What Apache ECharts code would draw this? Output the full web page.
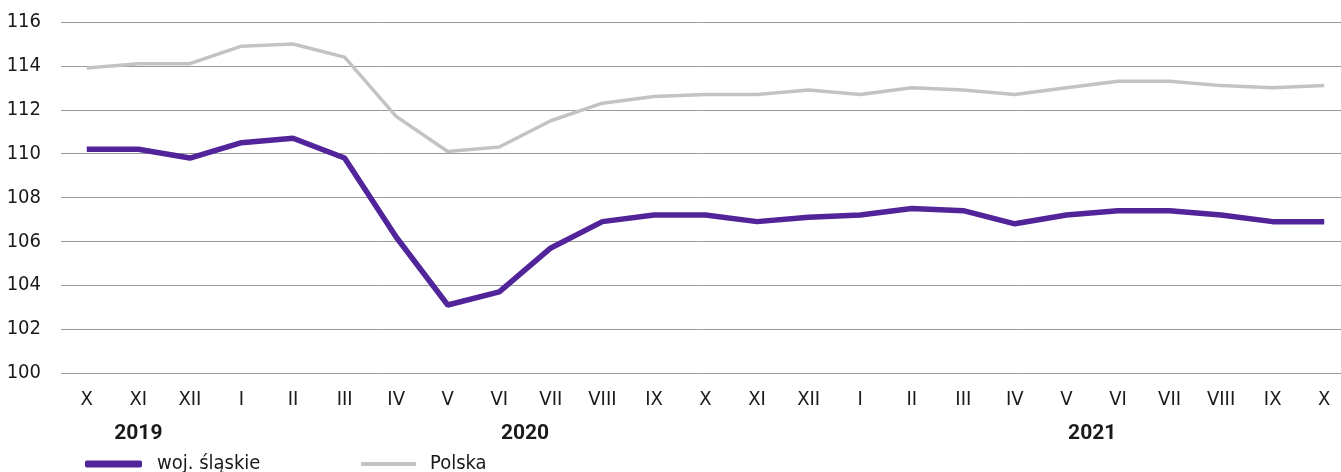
<!DOCTYPE html>
<html><head><meta charset="utf-8">
<script src="https://cdn.jsdelivr.net/npm/echarts@6/dist/echarts.min.js"></script>
<style>html,body{margin:0;padding:0;background:#fff}#c{width:1341px;height:472px}</style>
</head><body><div id="c"></div>
<script>
const months = ['X','XI','XII','I','II','III','IV','V','VI','VII','VIII','IX','X','XI','XII','I','II','III','IV','V','VI','VII','VIII','IX','X'];
// year label and the index range of months it spans
const years = ['2019','2020','2021'];
const yearFrom = [0, 3, 15];
const yearTo = [2, 14, 24];
const slaskie = [110.2,110.2,109.8,110.5,110.7,109.8,106.2,103.1,103.7,105.7,106.9,107.2,107.2,106.9,107.1,107.2,107.5,107.4,106.8,107.2,107.4,107.4,107.2,106.9,106.9];
const polska = [113.9,114.1,114.1,114.9,115.0,114.4,111.7,110.1,110.3,111.5,112.3,112.6,112.7,112.7,112.9,112.7,113.0,112.9,112.7,113.0,113.3,113.3,113.1,113.0,113.1];
const yTicks = [100,102,104,106,108,110,112,114,116];

const yearMid = years.map((y,i) => (yearFrom[i] + yearTo[i]) / 2);

const chart = echarts.init(document.getElementById('c'));
const font = '"Liberation Sans Narrow", "DejaVu Sans Condensed", Roboto';
const boldFont = 'Roboto';
const txt = '#1a1a1a';
chart.setOption({
  animation:false,
  textStyle:{fontFamily:font},
  grid:{left:61, width:1289, top:22, bottom:99, containLabel:false, outerBoundsMode:'none'},
  legend:[{
    left:80, top:449, itemWidth:57, itemHeight:7, icon:'roundRect',
    textStyle:{fontSize:20, color:txt, fontFamily:font, padding:[0,0,0,10]},
    data:['woj. śląskie']
  },{
    left:356, top:449, itemWidth:55, itemHeight:4, icon:'roundRect',
    textStyle:{fontSize:20, color:txt, fontFamily:font, padding:[0,0,0,9]},
    data:['Polska']
  }],
  xAxis:[{
    type:'category', data:months, boundaryGap:true,
    axisLine:{show:false}, axisTick:{show:false},
    axisLabel:{fontSize:20, color:txt, fontFamily:font, margin:17, interval:0}
  },{
    type:'value', min:-0.5, max:months.length - 0.5, position:'bottom', offset:33,
    axisLine:{show:false}, axisTick:{show:false}, splitLine:{show:false},
    axisLabel:{fontSize:21, fontWeight:'bold', color:txt, fontFamily:boldFont, margin:17,
      customValues: yearMid,
      formatter: v => { const i = yearMid.indexOf(v); return i >= 0 ? years[i] : ''; }}
  }],
  yAxis:{
    type:'value', min:yTicks[0], max:yTicks[yTicks.length-1], interval:2,
    axisLine:{show:false}, axisTick:{show:false},
    axisLabel:{fontSize:20, color:txt, fontFamily:font, margin:20},
    splitLine:{lineStyle:{color:'#9a9a9a', width:1}}
  },
  series:[
    {name:'Polska', type:'line', data:polska, showSymbol:false, symbol:'none',
     lineStyle:{color:'#c3c3c3', width:3.5}, itemStyle:{color:'#c3c3c3'}, z:2},
    {name:'woj. śląskie', type:'line', data:slaskie, showSymbol:false, symbol:'none',
     lineStyle:{color:'#52249a', width:5.5}, itemStyle:{color:'#52249a'}, z:3}
  ]
});
</script></body></html>
